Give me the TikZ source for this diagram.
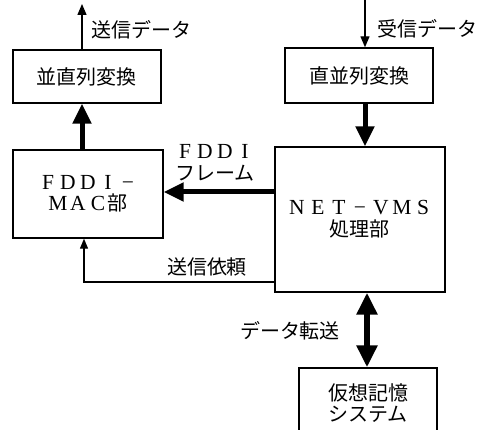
\documentclass[tikz,border=0pt]{standalone}
\usepackage{fontspec}
\setmainfont{Liberation Serif}
\newfontfamily\jp{Noto Sans CJK JP}
\usetikzlibrary{arrows.meta}
\newcommand\zw[1]{\makebox[20pt]{#1}}
\newcommand\zwb[1]{\makebox[21pt]{#1}}
\newcommand\latinbig{\rmfamily\fontsize{21.5}{21}\selectfont}
\tikzset{
  box/.style={draw, line width=1.4pt, inner sep=0pt, align=center, font=\jp\fontsize{20}{21}\selectfont},
  lbl/.style={inner sep=0pt, align=center, font=\jp\fontsize{20}{21}\selectfont},
  thickarrow/.style={line width=5pt, -{Triangle[length=20pt,width=18pt]}},
  dblarrow/.style={line width=6pt, {Triangle[length=22pt,width=20pt]}-{Triangle[length=22pt,width=20pt]}},
  thinarrow/.style={line width=1.3pt, -{Triangle[length=11pt,width=9pt]}}
}
\begin{document}
\begin{tikzpicture}[x=1pt,y=-1pt]
\clip (0,0) rectangle (483,430);
\fill[white] (0,0) rectangle (483,430);
\node[box, minimum width=148pt, minimum height=53pt] (p2s) at (87,76.5) {並直列変換};
\node[box, minimum width=148pt, minimum height=55pt] (s2p) at (359,75.5) {直並列変換};
\node[box, minimum width=150pt, minimum height=88pt] (mac) at (88,194)
  {{\latinbig\zw{F}\zw{D}\zw{D}\zw{I}\zw{−}}\\[0pt]{\latinbig\zw{M}\zw{A}\zw{C}}部};
\node[box, minimum width=170pt, minimum height=145pt] (net) at (360,219.5)
  {{\latinbig\zwb{N}\zwb{E}\zwb{T}\zwb{−}\zwb{V}\zwb{M}\zwb{S}}\\[1pt]処理部};
\node[box, minimum width=138pt, minimum height=70pt] (vm) at (368,403) {仮想記憶\\システム};
% labels
\node[lbl] (lsend) at (142,30) {送信データ};
\node[lbl] (lrecv) at (427,29) {受信データ};
\node[lbl] (lfddi) at (215,151) {\latinbig\zw{F}\zw{D}\zw{D}\zw{I}};
\node[lbl] (lframe) at (215,173) {フレーム};
\node[lbl] (lreq) at (207,267) {送信依頼};
\node[lbl] (ltrans) at (290,331) {データ転送};
% connectors
\coordinate (sendtop) at (82,4);
\coordinate (recvtop) at (365,0);
\coordinate (reqx) at (84,0);
\draw[thinarrow] (p2s.north -| sendtop) -- (sendtop);
\draw[thinarrow] (recvtop) -- (s2p.north -| recvtop);
\draw[thickarrow] (s2p.south -| recvtop) -- (net.north -| recvtop);
\draw[thickarrow] (mac.north -| sendtop) -- (p2s.south -| sendtop);
\draw[thickarrow] (net.west |- 0,192) -- (mac.east |- 0,192);
\draw[line width=1.3pt, -{Triangle[length=10pt,width=8pt]}] (net.west |- 0,282) -| (mac.south -| reqx);
\draw[dblarrow] (net.south -| 367,0) -- (vm.north -| 367,0);
\end{tikzpicture}
\end{document}
